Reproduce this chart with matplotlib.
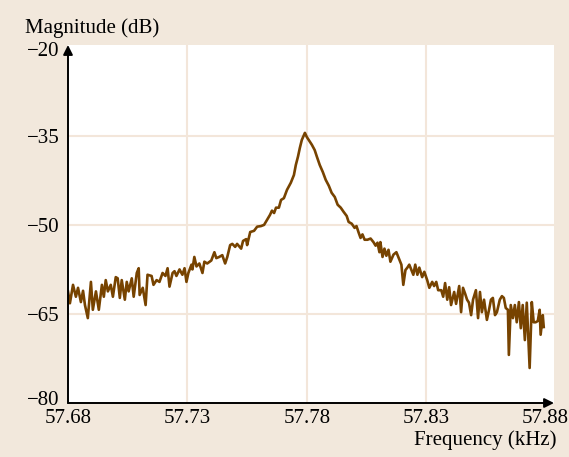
import matplotlib
matplotlib.use("Agg")
import matplotlib.pyplot as plt
import matplotlib.transforms as mtransforms

# Frequency (kHz) and magnitude (dB)
freq_khz = [
    57.6800, 57.6808, 57.6821, 57.6833, 57.6842, 57.6854, 57.6863, 57.6871, 57.6883, 57.6896,
    57.6904, 57.6917, 57.6929, 57.6942, 57.6950, 57.6958, 57.6967, 57.6979, 57.6988, 57.7000,
    57.7008, 57.7017, 57.7025, 57.7038, 57.7046, 57.7054, 57.7067, 57.7075, 57.7088, 57.7096,
    57.7100, 57.7113, 57.7125, 57.7133, 57.7150, 57.7158, 57.7171, 57.7183, 57.7196, 57.7208,
    57.7217, 57.7225, 57.7238, 57.7246, 57.7254, 57.7267, 57.7279, 57.7288, 57.7296, 57.7304,
    57.7317, 57.7321, 57.7329, 57.7338, 57.7350, 57.7363, 57.7371, 57.7383, 57.7400, 57.7413,
    57.7421, 57.7433, 57.7446, 57.7458, 57.7467, 57.7479, 57.7488, 57.7500, 57.7508, 57.7525,
    57.7533, 57.7546, 57.7550, 57.7563, 57.7579, 57.7592, 57.7608, 57.7621, 57.7633, 57.7646,
    57.7654, 57.7663, 57.7671, 57.7683, 57.7692, 57.7704, 57.7717, 57.7733, 57.7746, 57.7754,
    57.7763, 57.7771, 57.7779, 57.7792, 57.7800, 57.7808, 57.7821, 57.7833, 57.7842, 57.7854,
    57.7867, 57.7879, 57.7892, 57.7904, 57.7917, 57.7929, 57.7942, 57.7954, 57.7967, 57.7975,
    57.7988, 57.8000, 57.8008, 57.8017, 57.8025, 57.8033, 57.8042, 57.8054, 57.8067, 57.8079,
    57.8088, 57.8096, 57.8104, 57.8108, 57.8117, 57.8125, 57.8133, 57.8142, 57.8150, 57.8163,
    57.8175, 57.8183, 57.8196, 57.8204, 57.8213, 57.8221, 57.8229, 57.8238, 57.8246, 57.8254,
    57.8263, 57.8271, 57.8283, 57.8292, 57.8304, 57.8313, 57.8325, 57.8333, 57.8342, 57.8350,
    57.8363, 57.8371, 57.8379, 57.8388, 57.8396, 57.8404, 57.8417, 57.8425, 57.8438, 57.8446,
    57.8454, 57.8463, 57.8471, 57.8479, 57.8488, 57.8496, 57.8508, 57.8517, 57.8525, 57.8533,
    57.8542, 57.8554, 57.8563, 57.8571, 57.8579, 57.8588, 57.8596, 57.8608, 57.8617, 57.8625,
    57.8633, 57.8642, 57.8646, 57.8654, 57.8663, 57.8671, 57.8679, 57.8688, 57.8696, 57.8704,
    57.8713, 57.8721, 57.8729, 57.8733, 57.8742, 57.8750, 57.8758, 57.8767, 57.8775, 57.8779,
    57.8788, 57.8792,
]
magnitude_db = [
    -61.2, -63.2, -60.1, -62.1, -60.6, -63.0, -61.1, -63.5, -65.7, -59.6,
    -64.3, -61.2, -64.3, -60.1, -62.1, -59.3, -61.2, -60.1, -62.1, -58.8,
    -59.0, -62.3, -59.3, -62.6, -59.6, -61.2, -59.0, -62.1, -58.1, -57.3,
    -61.8, -60.6, -63.5, -58.4, -58.6, -60.1, -59.3, -59.6, -58.1, -58.6,
    -57.3, -60.4, -58.1, -57.8, -58.6, -57.5, -58.4, -57.3, -59.6, -58.1,
    -56.7, -57.5, -55.4, -57.0, -56.5, -58.1, -56.2, -56.5, -56.0, -54.6,
    -55.6, -55.4, -55.1, -56.5, -55.4, -53.4, -53.2, -53.7, -53.2, -54.0,
    -52.7, -52.4, -53.4, -51.2, -51.0, -50.3, -50.2, -50.0, -49.2, -48.3,
    -47.6, -48.0, -47.1, -47.1, -45.8, -45.5, -44.1, -42.9, -41.6, -39.9,
    -38.5, -37.0, -35.7, -34.5, -35.2, -35.7, -36.5, -37.4, -38.5, -39.9,
    -41.1, -42.4, -43.4, -44.6, -45.3, -46.6, -47.1, -47.8, -48.5, -49.5,
    -49.8, -50.5, -50.2, -51.3, -52.2, -51.6, -52.5, -52.5, -52.3, -52.9,
    -53.5, -53.0, -54.6, -52.9, -55.4, -54.0, -55.2, -54.2, -56.2, -55.0,
    -54.6, -55.4, -56.7, -60.1, -57.6, -57.2, -56.7, -57.6, -58.4, -56.7,
    -58.4, -57.2, -58.8, -57.9, -59.3, -60.6, -59.6, -60.3, -59.6, -61.0,
    -61.0, -62.1, -59.8, -62.6, -60.5, -63.5, -61.3, -63.3, -60.3, -64.7,
    -60.6, -61.6, -62.6, -63.1, -65.2, -62.6, -61.0, -65.7, -61.3, -64.7,
    -62.6, -66.0, -64.3, -62.6, -62.3, -65.2, -64.7, -62.6, -62.0, -62.3,
    -64.0, -64.3, -71.9, -63.5, -65.7, -63.5, -66.4, -63.0, -67.4, -63.5,
    -69.4, -63.1, -70.2, -74.1, -63.0, -66.4, -66.4, -66.2, -64.3, -68.5,
    -65.2, -67.2,
]

x_ticks = [57.68, 57.73, 57.78, 57.83, 57.88]
x_tick_labels = ["57.68", "57.73", "57.78", "57.83", "57.88"]
y_ticks = [-80, -65, -50, -35, -20]
y_tick_labels = ["\u221280", "\u221265", "\u221250", "\u221235", "\u221220"]

BG = "#f2e8dc"
GRID = "#f3e6da"
LINE = "#774300"
FONT = "Liberation Serif"
FS = 15

fig = plt.figure(figsize=(5.69, 4.57), dpi=100, facecolor=BG)
ax = fig.add_axes([68/569, 1-403/457, (554-68)/569, (403-45)/457])
ax.set_facecolor("white")

ax.set_xlim(57.68, 57.8835)
ax.set_ylim(-80, -19.7)

ax.set_xticks(x_ticks)
ax.set_xticklabels(x_tick_labels, fontfamily=FONT, fontsize=FS)
ax.set_yticks(y_ticks)
ax.set_yticklabels(y_tick_labels, fontfamily=FONT, fontsize=FS)
ax.tick_params(axis="x", length=0, pad=4)
ax.tick_params(axis="y", length=0, pad=6)

# nudge the end labels of the y axis like in the reference
ylabels = ax.get_yticklabels()
ylabels[0].set_transform(ylabels[0].get_transform() +
                         mtransforms.ScaledTranslation(0, 5/100, fig.dpi_scale_trans))
ylabels[-1].set_transform(ylabels[-1].get_transform() +
                          mtransforms.ScaledTranslation(0, -2/100, fig.dpi_scale_trans))

for gx in x_ticks[1:4]:
    ax.axvline(gx, color=GRID, lw=1.5, zorder=0)
for gy in y_ticks[1:4]:
    ax.axhline(gy, color=GRID, lw=1.5, zorder=0)

for s in ax.spines.values():
    s.set_visible(False)

ax.plot(freq_khz, magnitude_db, color=LINE, lw=1.9, zorder=3)

# axis arrows
ax.annotate("", xy=(1.0, 0), xytext=(0, 0), xycoords="axes fraction",
            arrowprops=dict(arrowstyle="-|>", color="black", lw=1.4,
                            mutation_scale=14, shrinkA=0, shrinkB=0), zorder=5)
ax.annotate("", xy=(0, 1.0), xytext=(0, 0), xycoords="axes fraction",
            arrowprops=dict(arrowstyle="-|>", color="black", lw=1.4,
                            mutation_scale=14, shrinkA=0, shrinkB=0), zorder=5)

fig.text(25/569, 1-28/457, "Magnitude (dB)", fontfamily=FONT, fontsize=FS,
         ha="left", va="center")
fig.text(556/569, 1-440/457, "Frequency (kHz)", fontfamily=FONT, fontsize=FS,
         ha="right", va="center")

fig.savefig("out.png", dpi=100, facecolor=BG)
